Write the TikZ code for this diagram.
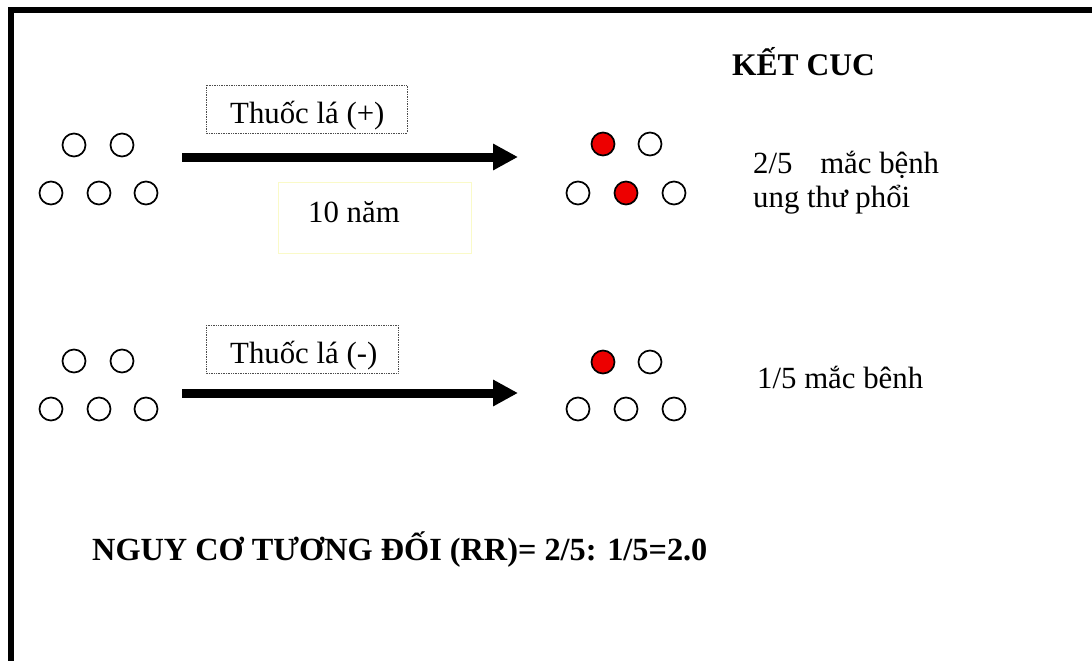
\documentclass[tikz,border=0pt]{standalone}
\usepackage{fontspec}
\setmainfont{Liberation Serif}
\usetikzlibrary{arrows.meta}
\definecolor{dotred}{RGB}{237,0,0}
\definecolor{paleyellow}{RGB}{250,250,200}
\tikzset{
  txt/.style={anchor=base west, inner sep=0pt, font=\fontsize{30.8}{34}\selectfont},
  btxt/.style={txt, font=\fontsize{31.5}{34}\selectfont\bfseries},
  person/.style={circle, draw=black, line width=1.7pt, minimum size=23pt, inner sep=0pt, fill=white},
  sick/.style={person, fill=dotred},
  labelbox/.style={draw=black!70, densely dotted, line width=0.7pt},
  timebox/.style={draw=paleyellow, line width=0.8pt},
  bigarrow/.style={line width=9pt, -{Triangle[length=25pt,width=25pt]}}
}
\begin{document}
\begin{tikzpicture}[x=1pt,y=-1pt]
\useasboundingbox (0,0) rectangle (1092,661);
% outer frame (top and left sides visible)
\draw[line width=6pt] (11,661) -- (11,10) -- (1092,10);

% heading
\node[btxt] (ketcuc) at (732,75) {KẾT CUC};

% --- exposed group ---
\node[person] (a1) at (74,145) {};
\node[person] (a2) at (122,145) {};
\node[person] (a3) at (51,193) {};
\node[person] (a4) at (99,193) {};
\node[person] (a5) at (146,193) {};

\draw[labelbox] (206,85) rectangle (407,133);
\node[txt] (smk1) at (230,123) {Thuốc lá (+)};

\coordinate (s1) at (182,157);
\coordinate (e1) at (518,157);
\draw[bigarrow] (s1) -- (e1);

\draw[timebox] (278,182) rectangle (471,253);
\node[txt] (years) at (308,222) {10 năm};

\node[sick]   (b1) at (603,144) {};
\node[person] (b2) at (650,144) {};
\node[person] (b3) at (578,193) {};
\node[sick]   (b4) at (626,193) {};
\node[person] (b5) at (674,193) {};

\node[txt] (res1) at (753,173) {2/5\hspace{0.65em} mắc bệnh};
\node[txt] (res1b) at (753,207) {ung thư phổi};

% --- unexposed group ---
\node[person] (c1) at (74,361) {};
\node[person] (c2) at (122,361) {};
\node[person] (c3) at (51,409) {};
\node[person] (c4) at (99,409) {};
\node[person] (c5) at (146,409) {};

\draw[labelbox] (206,325) rectangle (398,373);
\node[txt] (smk2) at (230,363) {Thuốc lá (-)};

\coordinate (s2) at (182,393);
\coordinate (e2) at (518,393);
\draw[bigarrow] (s2) -- (e2);

\node[sick]   (d1) at (603,362) {};
\node[person] (d2) at (650,362) {};
\node[person] (d3) at (578,409) {};
\node[person] (d4) at (626,409) {};
\node[person] (d5) at (674,409) {};

\node[txt] (res2) at (757,388) {1/5 mắc bênh};

% relative risk
\node[btxt, font=\fontsize{32.3}{34}\selectfont\bfseries] (rr) at (92,560) {NGUY CƠ TƯƠNG ĐỐI (RR)= 2/5: 1/5=2.0};
\end{tikzpicture}
\end{document}
